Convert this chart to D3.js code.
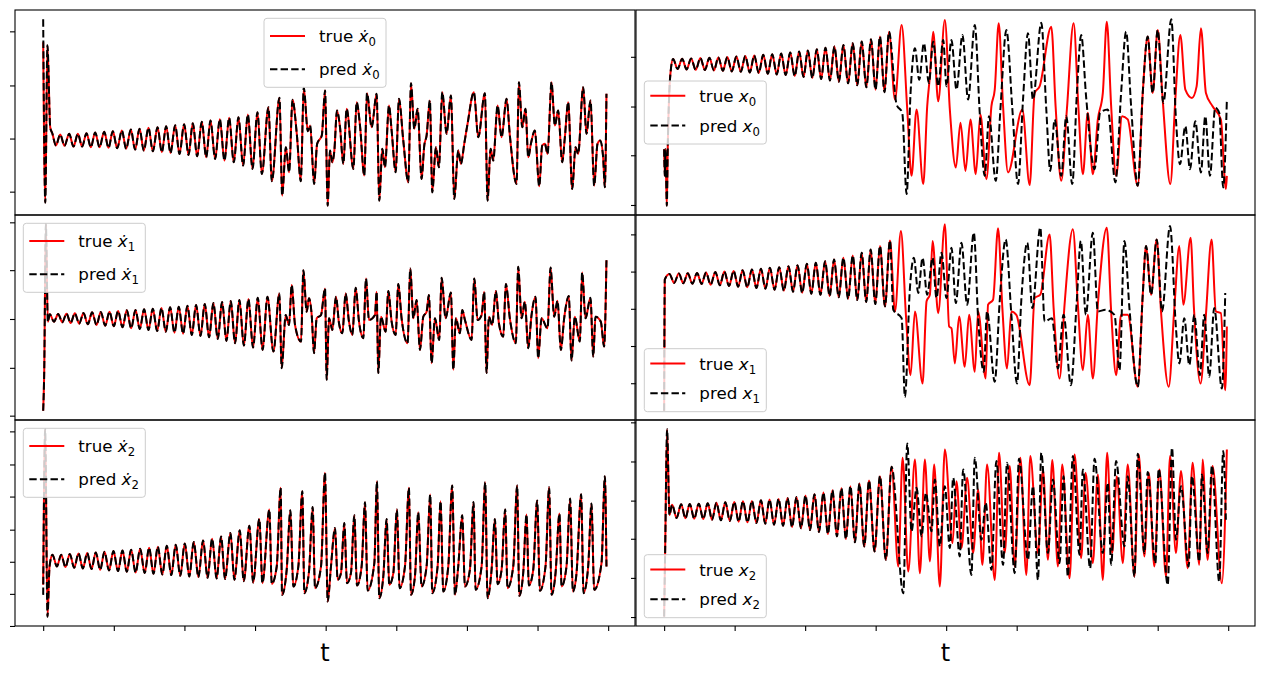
<!DOCTYPE html>
<html>
<head>
<meta charset="utf-8">
<script src="https://cdn.jsdelivr.net/npm/d3@7"></script>
<style>
  body { margin: 0; background: #fff; }
  svg { display: block; }
  text { font-family: "DejaVu Sans", sans-serif; }
</style>
</head>
<body>
<script>
// canvas
const W = 1264, H = 675;

// time ticks shared by every panel (no labels)
const tTicks = [0, 10, 20, 30, 40, 50, 60, 70, 80];

// ---------- xdot_0 (true and pred are on top of each other) ----------
const dx0True = [[0,9.8],[0.3,-6.2],[0.6,9.5],[1.0,1.3],[1.3,0.7],[1.8,-0.5],
  [2.41,0.6],[3.02,-0.53],[3.68,0.67],[4.29,-0.6],[4.91,0.67],[5.52,-0.6],[6.13,0.73],[6.75,-0.67],[7.36,0.8],[7.98,-0.67],
  [8.64,0.87],[9.25,-0.73],[9.86,0.93],[10.48,-0.77],[11.14,1.0],[11.75,-0.83],[12.41,1.1],[13.02,-0.9],[13.64,1.17],[14.25,-1.0],
  [14.91,1.27],[15.53,-1.07],[16.19,1.33],[16.8,-1.17],[17.41,1.43],[18.03,-1.23],[18.69,1.53],[19.3,-1.33],[19.96,1.63],[20.58,-1.43],
  [21.19,1.73],[21.8,-1.57],[22.46,1.87],[23.08,-1.67],[23.69,2.0],[24.35,-1.83],[25.01,2.13],[25.67,-2.0],[26.33,2.27],[26.99,-2.17],
  [27.65,2.33],[28.31,-2.5],[28.98,2.6],[29.64,-2.83],[30.34,2.83],[30.96,-3.33],[31.9,3.33],[32.37,-4.07],[33.46,4.27],[33.84,-5.5],
  [34.36,-0.67],[34.83,-3.17],[35.3,4.07],[35.91,0.67],[36.48,-4.07],[36.9,5.27],[37.47,0.93],[37.8,1.5],[38.37,-4.33],[38.79,-0.33],
  [39.45,0.5],[39.92,5.0],[40.28,-6.5],[40.61,-1.0],[40.94,-2.17],[41.23,-1.0],[41.6,3.0],[42.03,1.33],[42.5,-2.33],[42.97,3.17],
  [43.92,-2.83],[44.39,3.83],[44.86,1.5],[45.47,-3.5],[45.85,4.73],[46.51,1.33],[47.22,4.67],[47.59,-6.0],[48.02,-0.83],[48.4,-2.67],
  [48.96,3.5],[49.34,1.0],[49.91,-3.17],[50.38,4.17],[50.99,0],[51.7,-4.17],[52.08,5.73],[52.55,1.17],[53.02,3.17],[53.58,-3.83],
  [53.96,-0.5],[54.29,0.5],[54.76,4.0],[55.09,-5.17],[55.61,-0.67],[56.04,-2.67],[56.51,4.83],[57.12,0.67],[57.74,4.5],[58.21,-5.83],
  [58.77,-1.0],[59.15,-2.33],[59.62,-0.33],[60.09,1.67],[60.99,4.83],[61.6,0.33],[62.55,4.73],[62.92,-6.0],[63.35,-0.83],[63.73,-2.0],
  [64.34,3.5],[64.91,0.33],[65.61,4.17],[66.08,0.5],[67.03,-4.33],[67.36,5.83],[67.83,1.33],[68.3,3.17],[68.68,-1.67],[69.06,-0.33],
  [69.62,1.0],[70.24,-4.57],[70.66,-0.5],[71.04,-0.33],[71.42,-1.33],[71.98,5.83],[72.45,1.5],[72.92,3.0],[73.49,-2.17],[73.87,0.33],
  [74.34,3.83],[74.91,-4.83],[75.38,-0.67],[75.75,-1.33],[76.46,5.33],[76.93,0.67],[77.5,4.0],[78.02,-4.5],[78.49,-0.33],[78.87,0],
  [79.29,-1.67],[79.53,-4.67],[79.76,4.67]];
const dx0PredStart = [[0, 12.1]];
const dx0Pred = dx0PredStart.concat(dx0True.slice(1));
const dx0Ticks = [-5.1, 0.2, 5.5, 10.9];

// ---------- xdot_1 ----------
const dx1True = [[0,-9.3],[0.14,-5.7],[0.38,9.4],[0.66,-0.37],[0.94,0.37],
  [1.53,-0.37],[2.12,0.4],[2.71,-0.43],[3.3,0.43],[3.89,-0.5],[4.48,0.47],[5.1,-0.57],[5.71,0.5],[6.32,-0.63],[6.93,0.57],
  [7.55,-0.7],[8.16,0.6],[8.78,-0.77],[9.39,0.63],[10.0,-0.83],[10.61,0.7],[11.23,-0.93],[11.84,0.77],[12.46,-1.03],[13.07,0.8],
  [13.68,-1.1],[14.29,0.87],[14.91,-1.2],[15.52,0.93],[16.14,-1.3],[16.75,1.0],[17.36,-1.37],[17.97,1.07],[18.59,-1.47],[19.2,1.13],
  [19.81,-1.57],[20.42,1.23],[21.04,-1.7],[21.65,1.3],[22.27,-1.8],[22.88,1.4],[23.49,-1.93],[24.1,1.5],[24.72,-2.1],[25.33,1.6],
  [25.95,-2.3],[26.56,1.7],[27.17,-2.53],[27.78,1.8],[28.42,-2.77],[29.06,1.9],[29.72,-2.97],[30.38,2.03],[31.07,-3.2],[31.75,2.13],
  [32.6,-3.37],[33.44,2.47],[33.77,-5.03],[34.34,0.3],[34.81,-0.7],[35.19,3.3],[35.66,-0.7],[36.51,-2.37],[36.84,4.8],[37.31,0.63],
  [37.64,1.97],[38.02,0.3],[38.35,-3.53],[38.73,-0.03],[39.34,0.3],[39.91,2.97],[40.14,-6.2],[40.47,-0.03],[40.75,-0.7],[40.94,-1.2],
  [41.46,2.13],[41.89,-0.53],[42.36,-1.53],[42.83,2.47],[43.3,-0.37],[43.77,-1.7],[44.25,3.03],[44.72,-0.37],[45.33,-2.03],[45.71,3.97],
  [46.13,-0.2],[46.98,0.3],[47.22,2.63],[47.45,-5.53],[47.83,0.13],[48.49,-1.37],[48.87,2.7],[49.34,-0.37],[49.91,-1.7],[50.28,3.4],
  [50.75,-0.03],[51.6,-2.53],[51.98,4.97],[52.41,-0.03],[52.88,1.8],[53.35,-3.2],[53.82,0.13],[54.29,0.63],[54.62,2.3],[55.0,-4.53],
  [55.47,-0.03],[56.08,-2.2],[56.42,4.03],[56.98,-0.03],[57.74,2.57],[58.07,-5.2],[58.44,-0.03],[59.0,-1.53],[59.34,0.8],[59.72,-0.2],
  [60.66,-2.2],[61.04,3.97],[61.51,-0.2],[62.08,0.3],[62.45,2.63],[62.78,-5.53],[63.11,0.13],[63.58,-0.7],[64.1,2.7],[64.53,-0.53],
  [65.14,-1.87],[65.52,3.4],[66.08,-0.03],[66.93,-2.53],[67.26,5.13],[67.74,-0.03],[68.21,1.63],[68.68,-3.03],[69.15,0.3],[69.72,2.13],
  [70.09,-4.03],[70.57,-0.03],[71.42,-1.03],[71.84,5.07],[72.36,0.13],[72.83,1.73],[73.3,-3.2],[73.77,-0.03],[74.43,2.2],[74.81,-4.27],
  [75.28,0.13],[75.99,-2.37],[76.32,4.57],[76.79,-0.03],[77.5,2.03],[77.88,-3.87],[78.21,0.13],[78.96,-0.37],[79.43,-2.87],[79.76,5.8]];
const dx1Pred = dx1True;
const dx1Ticks = [9.6, 4.8, -0.1, -5.0, -9.8];

// ---------- xdot_2 ----------
const dx2True = [[0,-2.3],[0.28,13.2],[0.61,-5.47],[0.9,-0.47],[1.32,0.7],
  [1.94,-0.47],[2.55,0.7],[3.16,-0.53],[3.77,0.77],[4.39,-0.6],[5.0,0.83],[5.62,-0.67],[6.23,0.87],[6.84,-0.73],[7.45,0.93],
  [8.07,-0.8],[8.68,1.0],[9.32,-0.87],[9.95,1.07],[10.59,-0.93],[11.23,1.13],[11.84,-1.0],[12.45,1.2],[13.09,-1.07],[13.73,1.3],
  [14.37,-1.13],[15.0,1.4],[15.62,-1.2],[16.23,1.5],[16.87,-1.27],[17.5,1.6],[18.14,-1.33],[18.77,1.7],[19.41,-1.4],[20.05,1.83],
  [20.69,-1.47],[21.32,1.97],[21.98,-1.53],[22.64,2.13],[23.28,-1.6],[23.92,2.3],[24.56,-1.67],[25.19,2.53],[25.75,-1.73],[26.51,2.87],
  [27.08,-1.8],[27.83,3.13],[28.4,-1.93],[29.2,3.6],[29.72,-2.07],[30.61,4.27],[31.04,-2.13],[32.03,5.2],[32.36,-2.2],[33.07,-0.47],
  [33.63,7.37],[33.82,-3.3],[34.48,-0.8],[35.0,5.13],[35.42,-2.47],[36.13,-0.47],[36.7,7.03],[36.98,-3.13],[37.64,-0.97],[38.16,5.47],
  [38.49,-2.63],[39.34,-0.47],[39.91,8.87],[40.28,-3.97],[40.75,-0.47],[41.32,3.37],[41.7,-1.8],[42.17,-1.13],[42.64,3.87],[43.02,-2.13],
  [43.58,-1.13],[44.06,4.63],[44.43,-2.37],[45.09,-0.47],[45.57,5.93],[45.94,-2.87],[46.89,-0.13],[47.26,8.03],[47.59,-3.63],[48.16,-1.47],
  [48.63,4.27],[49.01,-2.3],[49.58,-1.13],[50.09,5.2],[50.47,-2.63],[51.23,-0.47],[51.79,7.37],[52.08,-3.3],[52.64,-1.47],[53.11,4.93],
  [53.58,-2.47],[54.29,-0.47],[54.81,6.7],[55.09,-3.13],[55.85,-0.47],[56.27,6.03],[56.65,-2.97],[57.36,-0.47],[57.92,7.6],[58.3,-3.3],
  [58.77,-0.47],[59.34,4.63],[59.72,-2.47],[60.42,-0.8],[60.94,5.97],[61.23,-2.8],[62.08,-0.47],[62.59,7.93],[62.92,-3.63],[63.49,-0.8],
  [63.96,4.27],[64.34,-2.23],[64.91,-0.8],[65.42,5.2],[65.75,-2.63],[66.56,-0.47],[67.12,7.6],[67.41,-3.4],[67.97,-1.13],[68.44,4.7],
  [68.77,-2.37],[69.39,-0.8],[69.95,6.1],[70.33,-2.9],[71.13,-0.47],[71.65,7.43],[71.98,-3.3],[72.55,-1.13],[73.11,4.8],[73.4,-2.47],
  [74.1,-0.47],[74.62,6.3],[75.0,-2.97],[75.52,-1.13],[76.18,6.73],[76.51,-3.13],[77.17,-0.47],[77.64,5.8],[78.02,-2.8],[79.06,-0.13],
  [79.53,8.53],[79.76,-0.47]];
const dx2PredStart = [[0, -3.3]];
const dx2Pred = dx2PredStart.concat(dx2True.slice(1));
const dx2Ticks = [13.0, 9.7, 6.5, 3.2, 0, -3.2, -6.4];

// ---------- x_0 (shared start, then true and pred split) ----------
const x0Shared = [[0,-8.7],[0.09,-11.37],[0.19,-8.7],[0.28,-11.37],[0.38,-14.37],[0.52,-8.2],[0.71,-3.37],[0.9,-1.03],[1.27,0.37],
  [1.91,-0.63],[2.55,0.4],[3.19,-0.67],[3.82,0.43],[4.48,-0.7],[5.14,0.47],[5.78,-0.73],[6.42,0.5],[7.06,-0.77],[7.69,0.53],
  [8.33,-0.8],[8.96,0.57],[9.6,-0.87],[10.24,0.63],[10.88,-0.9],[11.51,0.67],[12.15,-0.97],[12.78,0.73],[13.42,-1.03],[14.06,0.8],
  [14.7,-1.1],[15.33,0.87],[15.97,-1.17],[16.6,0.93],[17.24,-1.23],[17.88,1.03],[18.52,-1.33],[19.15,1.13],[19.77,-1.43],[20.38,1.23],
  [21.02,-1.53],[21.65,1.37],[22.27,-1.63],[22.88,1.5],[23.52,-1.77],[24.15,1.63],[24.79,-1.9],[25.42,1.8],[26.09,-2.07],[26.75,1.97],
  [27.39,-2.27],[28.02,2.13],[28.68,-2.47],[29.34,2.37],[29.98,-2.7],[30.61,2.63],[31.25,-2.97],[31.89,3.13]];
const x0TrueTail = [[32.74,-3.7],[33.68,3.8],[34.48,-4.7],[35.09,-11.37],[35.8,-4.7],[36.75,-12.2],[37.31,-4.37],[37.69,-1.37],
  [38.16,3.13],[38.87,-3.87],[39.81,4.3],[40.52,-4.7],[41.37,-10.53],[42.03,-6.03],[42.74,-10.87],[43.44,-5.7],[44.2,-11.2],[44.86,-5.2],
  [45.71,-11.7],[46.42,-4.37],[46.89,-2.7],[47.45,3.97],[48.07,-4.37],[48.77,-11.03],[50.8,-4.7],[51.84,-12.3],[52.55,-3.03],[53.25,-2.37],
  [54.91,3.63],[55.52,-4.37],[56.32,-11.87],[57.12,-4.7],[58.07,3.97],[58.77,-4.7],[59.39,-11.2],[60.09,-5.03],[60.8,-11.2],[61.51,-5.7],
  [62.22,-3.03],[62.78,4.13],[63.4,-4.37],[64.1,-11.37],[64.95,-5.37],[65.75,-5.7],[67.17,-12.37],[67.88,-3.03],[68.58,2.63],[69.29,-3.03],
  [70.0,3.3],[70.71,-3.7],[71.79,-12.2],[72.5,-3.7],[73.21,2.8],[73.92,-2.7],[74.86,-3.53],[75.52,-2.37],[76.13,3.47],[76.84,-3.03],
  [77.78,-4.37],[78.96,-5.7],[79.67,-12.7],[79.81,-11.37]];
const x0PredTail = [[32.97,-4.2],[33.77,-5.03],[34.39,-13.2],[34.95,-3.03],[35.57,1.47],[36.18,-1.7],[36.84,1.97],[37.55,-2.03],
  [38.16,2.13],[38.87,-2.37],[39.58,2.3],[40.05,-2.37],[40.75,2.3],[41.46,-2.7],[42.31,2.8],[43.11,-3.7],[44.06,3.8],[44.76,-5.03],
  [45.47,-11.37],[46.08,-5.37],[47.03,-11.87],[47.69,-4.7],[48.54,3.3],[49.39,-4.7],[50.19,-12.2],[50.9,-3.7],[51.6,2.97],[52.31,-3.7],
  [53.49,4.03],[54.2,-4.7],[54.76,-10.87],[55.38,-5.7],[56.32,-11.37],[57.03,-5.37],[57.88,-12.2],[58.54,-3.03],[59.15,2.8],[59.86,-3.53],
  [61.04,-10.7],[61.84,-5.03],[62.92,-4.7],[64.0,-12.03],[64.81,-3.03],[65.52,3.13],[66.23,-4.37],[67.17,-12.37],[67.88,-3.03],[68.58,2.63],
  [69.29,-3.03],[70.0,3.3],[70.8,-4.03],[71.93,4.37],[72.59,-5.7],[73.16,-10.2],[73.92,-6.37],[74.58,-10.7],[75.33,-5.87],[76.13,-11.03],
  [76.75,-5.37],[77.41,-11.37],[78.16,-4.53],[78.73,-5.03],[79.29,-12.53],[79.81,-3.7]];
const x0True = x0Shared.concat(x0TrueTail);
const x0Pred = x0Shared.concat(x0PredTail);
const x0Ticks = [0.6, -4.4, -9.3, -14.3];

// ---------- x_1 ----------
const x1Shared = [[0,-13.2],[0.09,-0.17],[0.75,0.4],
  [1.42,-0.5],[2.08,0.43],[2.72,-0.53],[3.35,0.47],[4.01,-0.57],[4.67,0.5],[5.31,-0.6],[5.94,0.53],[6.6,-0.67],[7.26,0.6],
  [7.9,-0.73],[8.54,0.63],[9.2,-0.8],[9.86,0.7],[10.5,-0.87],[11.13,0.77],[11.79,-0.93],[12.45,0.83],[13.09,-1.0],[13.73,0.9],
  [14.37,-1.07],[15.0,1.0],[15.66,-1.17],[16.32,1.07],[16.98,-1.27],[17.64,1.17],[18.28,-1.37],[18.92,1.27],[19.58,-1.47],[20.24,1.4],
  [20.88,-1.57],[21.51,1.5],[22.17,-1.67],[22.83,1.67],[23.47,-1.8],[24.1,1.83],[24.76,-1.93],[25.42,2.0],[26.09,-2.07],[26.75,2.23],
  [27.39,-2.2],[28.02,2.5],[28.66,-2.4],[29.29,2.83],[29.95,-2.6],[30.61,3.17],[31.32,-2.83],[32.03,3.73]];
const x1TrueTail = [[32.74,-3.33],[33.58,4.67],[34.29,-3.67],[34.95,-9.67],[35.57,-3.33],[36.65,-10.5],[37.22,-2.33],[37.69,-1.67],
  [38.07,3.67],[38.87,-3.5],[39.81,5.33],[40.42,-4.83],[40.75,-5.0],[41.23,-8.5],[41.84,-3.83],[42.64,-8.83],[43.25,-3.67],[44.06,-9.33],
  [44.53,-3.33],[45.61,-10.0],[45.94,-2.67],[46.65,-2.17],[47.36,4.93],[47.97,-3.0],[48.63,-9.0],[49.25,-3.33],[49.95,-3.67],[51.84,-10.67],
  [52.55,-2.0],[53.35,-1.67],[54.67,4.33],[55.24,-3.0],[56.08,-10.0],[56.79,-2.67],[57.97,4.83],[58.68,-2.67],[59.39,-9.17],[60.09,-3.67],
  [60.8,-10.0],[61.51,-2.67],[62.78,5.0],[63.4,-3.33],[64.1,-9.67],[64.81,-3.67],[65.75,-3.67],[67.17,-10.83],[67.88,-1.67],[68.35,3.17],
  [69.06,-1.67],[69.86,3.83],[70.47,-3.33],[71.56,-10.83],[72.36,-3.0],[73.07,3.17],[73.63,-2.67],[74.67,4.0],[75.14,-3.0],[76.08,-10.5],
  [76.84,-3.67],[77.64,3.83],[78.25,-3.33],[78.96,-3.5],[79.58,-11.17],[79.81,-4.83]];
const x1PredTail = [[32.5,-3.17],[33.68,-4.0],[34.15,-11.83],[34.86,-1.0],[35.42,2.0],[36.04,-1.5],[36.65,2.0],[37.31,-1.67],
  [38.07,2.0],[38.63,-2.0],[39.34,2.5],[40.05,-2.0],[40.75,3.0],[41.37,-2.5],[42.17,3.5],[42.97,-2.67],[43.92,4.5],[44.53,-4.0],
  [45.33,-9.33],[45.8,-3.33],[46.89,-10.33],[47.59,-2.33],[48.44,3.83],[49.25,-3.67],[50.05,-10.5],[50.66,-2.17],[51.51,3.5],[52.22,-3.0],
  [53.35,5.0],[53.96,-4.33],[55.0,-4.0],[55.85,-9.0],[56.65,-3.67],[57.69,-10.67],[58.49,-2.67],[59.1,3.67],[59.81,-3.67],[60.8,4.5],
  [61.51,-3.33],[62.59,-3.17],[63.87,-3.67],[64.58,-9.17],[65.28,3.67],[65.99,-3.0],[67.17,-10.83],[67.88,-1.67],[68.35,3.17],[69.06,-1.67],
  [69.86,3.83],[70.61,-3.33],[71.75,5.17],[72.59,-5.0],[73.07,-8.5],[73.77,-4.0],[74.48,-8.67],[75.19,-3.67],[75.99,-9.67],[76.6,-3.67],
  [77.31,-9.83],[78.02,-3.0],[79.1,-11.0],[79.58,-1.5]];
const x1True = x1Shared.concat(x1TrueTail);
const x1Pred = x1Shared.concat(x1PredTail);
const x1Ticks = [4.33, 0.63, -3.07, -6.77, -10.47];

// ---------- x_2 ----------
const x2Shared = [[0,-10.33],[0.14,-4.0],[0.42,8.33],[0.75,-0.2],[1.13,0.83],
  [1.77,-0.5],[2.41,0.87],[3.02,-0.53],[3.63,0.9],[4.27,-0.57],[4.91,0.93],[5.55,-0.6],[6.18,0.97],[6.8,-0.67],[7.41,1.03],
  [8.05,-0.73],[8.68,1.07],[9.32,-0.8],[9.95,1.1],[10.57,-0.87],[11.18,1.17],[11.82,-0.93],[12.45,1.2],[13.09,-1.0],[13.73,1.27],
  [14.34,-1.07],[14.95,1.33],[15.59,-1.17],[16.23,1.4],[16.87,-1.27],[17.5,1.5],[18.14,-1.4],[18.77,1.6],[19.41,-1.53],[20.05,1.73],
  [20.69,-1.7],[21.32,1.87],[21.96,-1.9],[22.59,2.03],[23.23,-2.1],[23.87,2.27],[24.51,-2.33],[25.14,2.47],[25.78,-2.6],[26.42,2.67],
  [27.06,-2.93],[27.69,2.93],[28.38,-3.33],[29.06,3.23],[29.84,-3.83],[30.61,3.67],[31.44,-4.67],[32.26,4.6]];
const x2TrueTail = [[33.21,-5.33],[33.82,5.5],[34.62,-5.83],[35.57,5.33],[36.27,-6.0],[36.98,5.33],[37.69,-4.83],[38.3,4.83],
  [39.1,-7.33],[39.81,6.33],[40.9,-3.0],[41.46,3.17],[42.17,-3.5],[42.97,3.5],[43.82,-4.0],[44.53,2.33],[45.14,-5.17],[45.8,4.83],
  [46.89,-6.67],[47.5,6.0],[48.3,-4.0],[49.01,4.67],[49.72,-5.33],[50.52,5.5],[51.37,-6.17],[51.93,5.67],[53.02,-4.0],[53.73,4.33],
  [54.43,-4.67],[55.05,5.27],[55.85,-5.33],[56.46,4.83],[57.5,-6.5],[58.21,5.83],[59.15,-4.5],[59.76,4.0],[60.8,-5.0],[61.51,3.83],
  [62.22,-6.67],[62.83,6.0],[63.54,-4.0],[64.2,3.67],[65.05,-5.0],[65.75,4.83],[66.7,-6.33],[67.31,5.83],[68.11,-4.33],[68.73,4.0],
  [69.53,-5.33],[70.24,4.33],[71.18,-6.33],[71.75,5.67],[72.59,-4.0],[73.3,4.17],[74.25,-5.5],[74.95,5.0],[75.9,-5.17],[76.37,5.33],
  [77.08,-4.67],[77.78,4.67],[79.1,-7.0],[79.81,6.33]];
const x2PredTail = [[33.92,-8.0],[34.48,6.93],[35.09,-1.83],[35.8,2.5],[36.51,-2.33],[37.12,2.0],[37.92,-1.83],[38.4,3.33],
  [39.1,-3.33],[39.81,2.67],[40.52,-3.5],[40.99,3.5],[41.93,-4.33],[42.41,4.33],[43.58,-6.17],[44.06,5.5],[45.0,-2.67],[45.61,1.0],
  [46.42,-5.67],[47.12,5.17],[48.07,-5.17],[48.63,5.0],[49.72,-6.0],[50.33,5.4],[51.6,-4.67],[52.31,2.67],[53.02,-6.67],[53.49,6.0],
  [54.43,-4.0],[55.14,3.33],[56.08,-5.0],[56.65,3.67],[57.26,-6.33],[57.97,5.67],[58.92,-4.17],[59.39,4.33],[60.42,-5.5],[61.04,5.4],
  [62.22,-4.0],[62.92,3.0],[63.4,-5.17],[64.1,5.17],[65.28,-3.33],[65.75,3.67],[66.7,-6.33],[67.17,5.9],[68.11,-4.0],[68.58,4.07],
  [69.67,-5.0],[70.14,4.4],[71.42,-7.17],[72.03,6.5],[72.59,-2.67],[73.3,2.67],[74.39,-5.33],[74.86,3.67],[75.9,-4.83],[76.27,3.83],
  [77.08,-4.0],[77.69,4.73],[78.73,-6.83],[79.29,6.17],[79.67,-0.67]];
const x2True = x2Shared.concat(x2TrueTail);
const x2Pred = x2Shared.concat(x2PredTail);
const x2Ticks = [9.03, 5.13, 1.23, -2.57, -6.47, -10.37];

// panel table (left column: derivatives, right column: states)
const panels = [
  { col: 0, row: 0, trueData: dx0True, predData: dx0Pred, ticks: dx0Ticks, dot: true,  sub: "0", loc: "upper center" },
  { col: 0, row: 1, trueData: dx1True, predData: dx1Pred, ticks: dx1Ticks, dot: true,  sub: "1", loc: "upper left" },
  { col: 0, row: 2, trueData: dx2True, predData: dx2Pred, ticks: dx2Ticks, dot: true,  sub: "2", loc: "upper left" },
  { col: 1, row: 0, trueData: x0True,  predData: x0Pred,  ticks: x0Ticks,  dot: false, sub: "0", loc: "center left" },
  { col: 1, row: 1, trueData: x1True,  predData: x1Pred,  ticks: x1Ticks,  dot: false, sub: "1", loc: "lower left" },
  { col: 1, row: 2, trueData: x2True,  predData: x2Pred,  ticks: x2Ticks,  dot: false, sub: "2", loc: "lower left" }
];

const colX = [[15, 635], [636, 1255]];
const rowY = [[10, 215], [215, 420], [420, 626]];

// matplotlib style 5% margins
function padded(ext) {
  const d = (ext[1] - ext[0]) * 0.05;
  return [ext[0] - d, ext[1] + d];
}

let svg = d3.select("body")
  .append("svg")
  .attr("width", W)
  .attr("height", H);

const tDomain = padded(d3.extent(panels.flatMap(p => p.trueData.concat(p.predData)), d => d[0]));

panels.forEach(function (p, i) {
  const [x0, x1] = colX[p.col];
  const [y0, y1] = rowY[p.row];

  const x = d3.scaleLinear().domain(tDomain).range([x0, x1]);
  const y = d3.scaleLinear()
    .domain(padded(d3.extent(p.trueData.concat(p.predData), d => d[1])))
    .range([y1, y0]);

  const g = svg.append("g");

  g.append("clipPath").attr("id", "clip" + i)
    .append("rect").attr("x", x0).attr("y", y0).attr("width", x1 - x0).attr("height", y1 - y0);

  const line = d3.line()
    .x(d => x(d[0]))
    .y(d => y(d[1]))
    .curve(d3.curveMonotoneX);

  g.append("path")
    .datum(p.trueData)
    .attr("d", line)
    .attr("fill", "none")
    .attr("stroke", "#ff0000")
    .attr("stroke-width", 2)
    .attr("stroke-linejoin", "round")
    .attr("clip-path", "url(#clip" + i + ")");

  g.append("path")
    .datum(p.predData)
    .attr("d", line)
    .attr("fill", "none")
    .attr("stroke", "#000")
    .attr("stroke-width", 2)
    .attr("stroke-dasharray", "7.4,3.2")
    .attr("clip-path", "url(#clip" + i + ")");

  // y ticks, no labels
  g.append("g")
    .attr("transform", `translate(${x0},0)`)
    .call(d3.axisLeft(y).tickValues(p.ticks).tickSize(5).tickFormat(""))
    .call(a => a.select(".domain").remove())
    .call(a => a.selectAll("line").attr("stroke-width", 1.1));

  // x ticks only on the bottom row
  if (p.row === 2) {
    g.append("g")
      .attr("transform", `translate(0,${y1})`)
      .call(d3.axisBottom(x).tickValues(tTicks).tickSize(5).tickFormat(""))
      .call(a => a.select(".domain").remove())
      .call(a => a.selectAll("line").attr("stroke-width", 1.1));

    g.append("text")
      .attr("x", (x0 + x1) / 2)
      .attr("y", 661)
      .attr("text-anchor", "middle")
      .attr("font-size", 24)
      .text("t");
  }

  // frame
  g.append("rect")
    .attr("x", x0).attr("y", y0)
    .attr("width", x1 - x0).attr("height", y1 - y0)
    .attr("fill", "none")
    .attr("stroke", "#000")
    .attr("stroke-width", 1.1);

  drawLegend(g, p, x0, x1, y0, y1);
});

function drawLegend(g, p, x0, x1, y0, y1) {
  const w = 122, h = p.dot ? 69 : 63, pad = 8.3;
  let bx = x0 + pad, by = y0 + pad;
  if (p.loc === "upper center") bx = (x0 + x1) / 2 - w / 2;
  if (p.loc === "center left") by = (y0 + y1) / 2 - h / 2;
  if (p.loc === "lower left") by = y1 - pad - h;

  const lg = g.append("g");
  lg.append("rect")
    .attr("x", bx).attr("y", by)
    .attr("width", w).attr("height", h)
    .attr("rx", 3)
    .attr("fill", "#fff").attr("fill-opacity", 0.8)
    .attr("stroke", "#cccccc").attr("stroke-width", 1);

  const rows = p.dot ? [by + 17.7, by + 51] : [by + 14.8, by + 44.5];
  const entries = [
    { label: "true", color: "#ff0000", dash: null },
    { label: "pred", color: "#000", dash: "7.4,3.2" }
  ];
  entries.forEach(function (e, k) {
    const ry = rows[k];
    lg.append("line")
      .attr("x1", bx + 6).attr("x2", bx + 41)
      .attr("y1", ry).attr("y2", ry)
      .attr("stroke", e.color).attr("stroke-width", 2)
      .attr("stroke-dasharray", e.dash);
    const t = lg.append("text")
      .attr("x", bx + 55)
      .attr("y", ry + 6)
      .attr("font-size", 16.7)
      .attr("fill", "#000");
    t.append("tspan").text(e.label + " ");
    t.append("tspan").attr("font-style", "italic").text(p.dot ? "\u1E8B" : "x");
    t.append("tspan").attr("font-size", 11.7).attr("dy", 4).text(p.sub);
  });
}
</script>
</body>
</html>
